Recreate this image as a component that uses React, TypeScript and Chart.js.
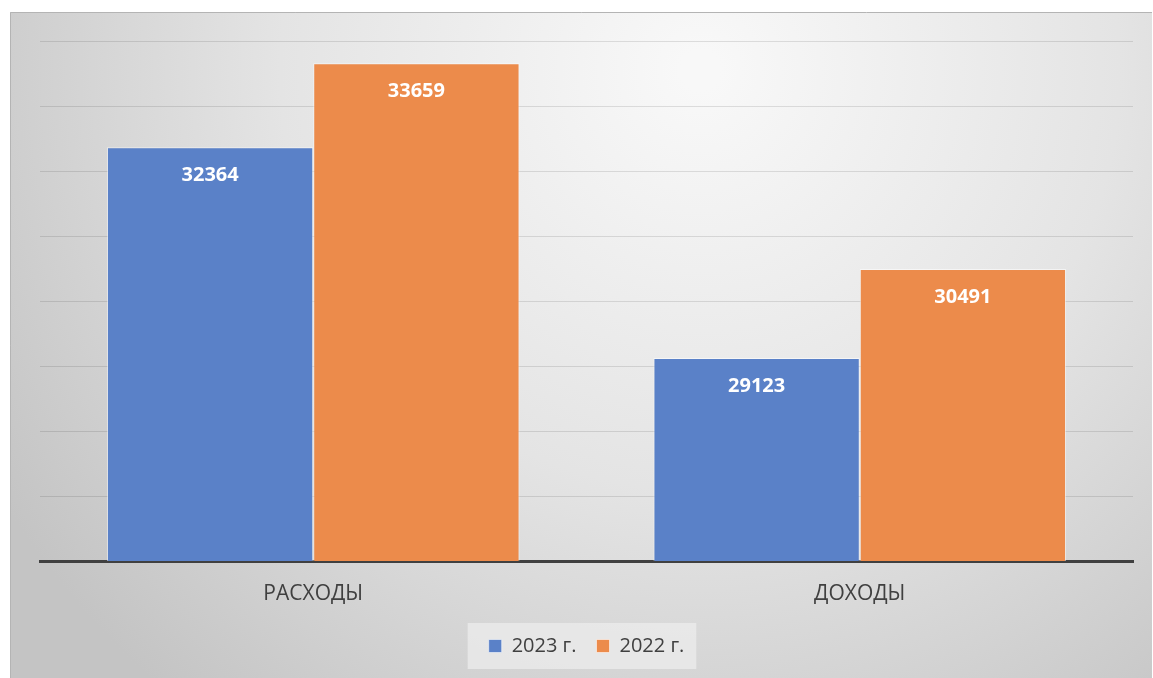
import React, { useEffect, useRef } from "react";
import { Chart, registerables } from "chart.js";

Chart.register(...registerables);

const categories = ["РАСХОДЫ", "ДОХОДЫ"];
const seriesNames = ["2023 г.", "2022 г."];
const values2023 = [32364, 29123];
const values2022 = [33659, 30491];
const yMin = 26000;
const yMax = 34000;
const yStep = 1000;

const FONT = "'Open Sans', 'Liberation Sans', sans-serif";

const bgPlugin = {
  id: "bgPlugin",
  beforeDraw(chart: any) {
    const { ctx } = chart;
    const x0 = 10, y0 = 12, x1 = 1152, y1 = 678;
    ctx.save();
    const g = ctx.createRadialGradient(700, 70, 20, 700, 70, 820);
    g.addColorStop(0, "#f8f8f8");
    g.addColorStop(0.5, "#e4e4e4");
    g.addColorStop(1, "#c4c4c4");
    ctx.fillStyle = g;
    ctx.fillRect(x0, y0, x1 - x0, y1 - y0);
    ctx.strokeStyle = "#b4b4b4";
    ctx.lineWidth = 1;
    ctx.beginPath();
    ctx.moveTo(x0 + 0.5, y1);
    ctx.lineTo(x0 + 0.5, y0 + 0.5);
    ctx.lineTo(x1, y0 + 0.5);
    ctx.stroke();
    // legend background
    const lg = chart.legend;
    if (lg && lg.legendHitBoxes && lg.legendHitBoxes.length) {
      const boxes = lg.legendHitBoxes;
      const left = Math.min(...boxes.map((b: any) => b.left)) - 21;
      const right = Math.max(...boxes.map((b: any) => b.left + b.width)) + 12;
      const cy = boxes[0].top + boxes[0].height / 2;
      ctx.fillStyle = "rgba(236,236,236,0.75)";
      ctx.fillRect(left, cy - 23, right - left, 46);
    }
    ctx.restore();
  },
};

const labelPlugin = {
  id: "labelPlugin",
  afterDatasetsDraw(chart: any) {
    const { ctx } = chart;
    ctx.save();
    ctx.font = `bold 20px ${FONT}`;
    ctx.fillStyle = "#ffffff";
    ctx.textAlign = "center";
    ctx.textBaseline = "middle";
    chart.data.datasets.forEach((ds: any, i: number) => {
      const meta = chart.getDatasetMeta(i);
      meta.data.forEach((bar: any, j: number) => {
        ctx.fillText(String(ds.data[j]), bar.x, bar.y + 28);
      });
    });
    ctx.restore();
  },
};

export default function App() {
  const ref = useRef<HTMLCanvasElement>(null);
  useEffect(() => {
    if (!ref.current) return;
    const chart = new Chart(ref.current, {
      type: "bar",
      data: {
        labels: categories,
        datasets: [
          {
            label: seriesNames[0],
            data: values2023,
            backgroundColor: "#5a81c8",
            borderColor: "rgba(255,255,255,0.55)",
            borderWidth: 1,
            categoryPercentage: 0.755,
            barPercentage: 1,
          },
          {
            label: seriesNames[1],
            data: values2022,
            backgroundColor: "#ec8b4b",
            borderColor: "rgba(255,255,255,0.55)",
            borderWidth: 1,
            categoryPercentage: 0.755,
            barPercentage: 1,
          },
        ],
      },
      options: {
        responsive: false,
        animation: false,
        layout: { padding: { left: 40, right: 20, top: 41, bottom: 12 } },
        plugins: {
          tooltip: { enabled: false },
          legend: {
            position: "bottom",
            labels: {
              boxWidth: 13,
              boxHeight: 13,
              padding: 20,
              color: "#404040",
              font: { family: FONT, size: 20 },
            },
          },
        },
        scales: {
          x: {
            grid: { display: false, drawTicks: false },
            border: { display: true, color: "#404040", width: 3 },
            ticks: {
              color: "#404040",
              font: { family: FONT, size: 21 },
              padding: 20,
            },
            afterFit(scale: any) {
              scale.height = 55;
            },
          },
          y: {
            min: yMin,
            max: yMax,
            z: 1,
            grid: { color: "rgba(0,0,0,0.11)", lineWidth: 1, drawTicks: false },
            border: { display: false },
            ticks: { display: false, stepSize: yStep },
            afterFit(scale: any) {
              scale.width = 0;
            },
          },
        },
      },
      plugins: [bgPlugin, labelPlugin],
    });
    return () => chart.destroy();
  }, []);
  return (
    <div style={{ position: "fixed", left: 0, top: 0, width: 1153, height: 678, background: "#fff" }}>
      <canvas ref={ref} width={1153} height={678} />
    </div>
  );
}
